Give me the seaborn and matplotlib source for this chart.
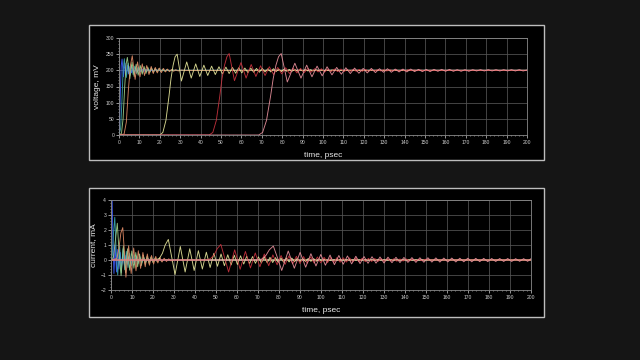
import matplotlib
matplotlib.use("Agg")
import matplotlib.pyplot as plt
import pandas as pd
import seaborn as sns
from matplotlib.patches import Rectangle
from matplotlib.ticker import MultipleLocator

# ---------------- data (time in psec) ----------------
curve_names = ["blue", "teal", "light", "orange", "yellow", "red", "pink"]
curve_colors = {
    "blue": "#3f5cff", "teal": "#3aa6b0", "light": "#9ed08a", "orange": "#e08a66",
    "yellow": "#e6e69a", "red": "#c8323e", "pink": "#e8909c",
}

# voltage, mV
volt_blue = [(0, 0), (0.3, 40), (0.7, 140), (1.1, 215), (1.5, 235), (2.2, 180), (2.9, 222), (3.5, 185),
             (4.1, 216), (4.7, 189), (5.4, 212), (6.1, 192), (6.8, 209), (7.5, 193), (8.2, 207), (9.0, 195),
             (9.8, 205), (10.6, 196), (11.5, 204), (12.4, 197), (13.3, 203), (14.2, 198), (15.2, 202),
             (16.2, 199), (18, 201), (20, 200), (200, 200)]
volt_teal = [(0, 0), (0.8, 20), (1.4, 100), (2.0, 195), (2.6, 236), (3.6, 178), (4.5, 222), (5.3, 184),
             (6.1, 217), (6.9, 187), (7.7, 213), (8.5, 190), (9.3, 210), (10.1, 192), (10.9, 208), (11.7, 194),
             (12.5, 206), (13.4, 195), (14.3, 205), (15.2, 196), (16.1, 204), (17.0, 197), (18, 203), (19, 198),
             (20, 202), (21.5, 199), (23, 200), (200, 200)]
volt_light = [(0, 0), (1.2, 5), (2.0, 50), (2.8, 150), (3.5, 220), (4.1, 240), (5.3, 174), (6.4, 225),
              (7.4, 181), (8.4, 219), (9.4, 185), (10.4, 215), (11.4, 188), (12.3, 212), (13.2, 190),
              (14.1, 210), (15.0, 192), (15.9, 208), (16.8, 193), (17.7, 206), (18.6, 195), (19.5, 205),
              (20.5, 196), (21.5, 204), (22.5, 197), (23.5, 203), (24.5, 198), (26, 201), (28, 200), (200, 200)]
volt_orange = [(0, 0), (2.5, 3), (3.6, 40), (4.6, 140), (5.6, 215), (6.5, 245), (7.9, 172), (9.1, 226),
               (10.3, 180), (11.4, 220), (12.5, 184), (13.6, 215), (14.7, 187), (15.8, 212), (16.8, 190),
               (17.8, 209), (18.8, 192), (19.8, 207), (20.8, 193), (21.8, 206), (22.8, 195), (23.8, 204),
               (24.8, 196), (25.8, 203), (26.8, 197), (27.8, 202), (29, 198), (30.5, 201), (32, 200), (200, 200)]
volt_yellow = [(0, 0), (20, 0), (21.5, 8), (23, 45), (24.5, 120), (25.5, 175), (26.5, 215), (27.5, 242),
               (28.5, 250), (30.6, 167), (33.2, 226), (35.4, 176), (37.6, 220), (39.6, 181), (41.6, 216),
               (43.5, 184), (45.4, 213), (47.2, 187), (49.0, 211), (50.7, 189), (52.4, 210), (54.0, 190),
               (55.6, 209), (57.2, 191), (58.7, 208), (60.2, 192), (61.7, 207), (63.2, 193), (64.6, 207),
               (66.0, 194), (67.4, 206), (68.8, 194), (70.2, 206), (71.6, 195), (73.0, 205), (74.4, 195),
               (75.7, 205), (77.0, 196), (78.3, 204), (79.6, 196), (80.9, 204), (82.2, 197), (83.5, 203),
               (84.8, 197), (86.1, 203), (87.4, 197), (88.7, 203), (90.0, 198), (91.3, 202), (92.6, 198),
               (93.9, 202), (95.2, 198), (96.5, 202), (97.8, 199), (99.1, 202), (100.4, 199), (101.7, 201),
               (103, 199), (104.3, 201), (106, 200), (200, 200)]
volt_red = [(0, 0), (44.2, 0), (46, 8), (47.7, 45), (49.4, 120), (50.5, 175), (51.7, 215), (52.9, 242),
            (54.0, 252), (56.6, 168), (59.8, 224), (62.3, 176), (64.8, 218), (67.1, 181), (69.4, 214),
            (71.6, 184), (73.7, 211), (75.8, 187), (77.8, 209), (79.8, 189), (81.7, 208), (83.6, 190),
            (85.4, 207), (87.2, 192), (89.0, 206), (90.8, 193), (92.5, 206), (94.2, 194), (95.9, 205),
            (97.6, 195), (99.2, 205), (100.8, 195), (102.4, 204), (104.0, 196), (105.6, 204), (107.2, 196),
            (108.8, 204), (110.3, 196), (111.8, 203), (113.3, 197), (114.8, 203), (116.3, 197), (117.8, 203),
            (119.3, 197), (120.8, 203), (122.3, 197), (123.8, 202), (125.3, 198), (126.8, 202), (128.3, 198),
            (129.8, 202), (131.3, 198), (132.8, 202), (134.3, 198), (135.8, 202), (137.3, 198), (138.8, 202),
            (140.3, 198), (141.8, 202), (143.3, 199), (144.8, 201), (146.3, 199), (147.8, 201), (149.3, 199),
            (151, 200), (200, 200)]
volt_pink = [(0, 0), (68.5, 0), (70.4, 8), (72.3, 45), (74.3, 120), (75.6, 175), (76.9, 215), (78.2, 242),
             (79.5, 252), (82.5, 164), (86.2, 222), (89.2, 176), (92.0, 216), (94.6, 180), (97.1, 213),
             (99.6, 183), (102.0, 211), (104.4, 186), (106.7, 209), (109.0, 188), (111.2, 208), (113.4, 190),
             (115.5, 207), (117.6, 191), (119.7, 206), (121.7, 192), (123.7, 206), (125.7, 193), (127.7, 205),
             (129.7, 194), (131.6, 205), (133.5, 194), (135.4, 204), (137.3, 195), (139.2, 204), (141.1, 195),
             (143.0, 204), (144.9, 196), (146.8, 203), (148.7, 196), (150.6, 203), (152.5, 196), (154.4, 203),
             (156.3, 197), (158.2, 203), (160.1, 197), (162.0, 203), (163.9, 197), (165.8, 202), (167.7, 197),
             (169.6, 202), (171.5, 197), (173.4, 202), (175.3, 198), (177.2, 202), (179.1, 198), (181.0, 202),
             (182.9, 198), (184.8, 202), (186.7, 198), (188.6, 202), (190.5, 198), (192.4, 202), (194.3, 198),
             (196.2, 202), (198.1, 198), (200, 201)]

# current, mA
curr_blue = [(0, 5.5), (0.4, 5.0), (0.9, 1.5), (1.4, -0.9), (2.0, 1.0), (2.6, -0.8), (3.2, 0.7), (3.8, -0.6),
             (4.4, 0.5), (5.0, -0.45), (5.7, 0.4), (6.4, -0.35), (7.1, 0.3), (7.8, -0.28), (8.6, 0.25),
             (9.4, -0.22), (10.2, 0.2), (11, -0.18), (11.9, 0.15), (12.8, -0.13), (13.7, 0.11), (14.6, -0.1),
             (15.6, 0.08), (16.6, -0.07), (18, 0.05), (20, 0), (200, 0)]
curr_teal = [(0, 0), (0.6, 0.3), (1.2, 1.8), (1.8, 2.85), (2.5, 0.5), (3.2, -1.0), (4.1, 0.95), (4.9, -0.85),
             (5.7, 0.75), (6.5, -0.65), (7.3, 0.58), (8.1, -0.5), (8.9, 0.45), (9.7, -0.4), (10.5, 0.36),
             (11.3, -0.32), (12.1, 0.28), (12.9, -0.25), (13.8, 0.22), (14.7, -0.2), (15.6, 0.17), (16.5, -0.15),
             (17.5, 0.12), (18.5, -0.1), (19.5, 0.08), (20.6, -0.06), (22, 0.04), (24, 0), (200, 0)]
curr_light = [(0, 0), (1.2, 0.2), (2.0, 1.2), (3.0, 2.45), (3.9, 0.4), (4.8, -1.05), (5.9, 0.95), (6.9, -0.85),
              (7.9, 0.75), (8.9, -0.68), (9.9, 0.6), (10.9, -0.55), (11.8, 0.5), (12.7, -0.45), (13.6, 0.4),
              (14.5, -0.36), (15.4, 0.32), (16.3, -0.28), (17.2, 0.25), (18.1, -0.22), (19.0, 0.2), (20, -0.17),
              (21, 0.14), (22, -0.12), (23, 0.1), (24, -0.08), (25.5, 0.05), (27, 0), (200, 0)]
curr_orange = [(0, 0), (2.8, 0.1), (3.8, 0.8), (4.7, 1.8), (5.6, 2.16), (6.4, 0.5), (7.1, -1.15), (8.4, 0.95),
               (9.6, -0.9), (10.8, 0.8), (11.9, -0.72), (13.0, 0.62), (14.1, -0.56), (15.2, 0.5), (16.3, -0.45),
               (17.3, 0.4), (18.3, -0.35), (19.3, 0.3), (20.3, -0.27), (21.3, 0.24), (22.3, -0.2), (23.3, 0.17),
               (24.3, -0.14), (25.3, 0.12), (26.4, -0.1), (27.5, 0.08), (28.6, -0.06), (30, 0), (200, 0)]
curr_yellow = [(0, 0), (21, 0), (23, 0.1), (24.5, 0.45), (25.8, 1.0), (27.3, 1.37), (28.9, 0.2), (30.5, -0.97),
               (33.0, 0.9), (35.3, -0.8), (37.5, 0.75), (39.6, -0.7), (41.6, 0.62), (43.5, -0.6), (45.4, 0.52),
               (47.2, -0.5), (49.0, 0.45), (50.7, -0.42), (52.4, 0.4), (54.0, -0.38), (55.6, 0.35), (57.2, -0.33),
               (58.7, 0.32), (60.2, -0.3), (61.7, 0.28), (63.2, -0.27), (64.6, 0.25), (66.0, -0.24), (67.4, 0.23),
               (68.8, -0.22), (70.2, 0.21), (71.6, -0.2), (73.0, 0.2), (74.4, -0.19), (75.7, 0.18), (77.0, -0.17),
               (78.3, 0.16), (79.6, -0.16), (80.9, 0.15), (82.2, -0.15), (83.5, 0.14), (84.8, -0.13), (86.1, 0.13),
               (87.4, -0.12), (88.7, 0.12), (90.0, -0.11), (91.3, 0.11), (92.6, -0.1), (93.9, 0.1), (95.2, -0.09),
               (96.5, 0.09), (97.8, -0.08), (99.1, 0.08), (100.4, -0.07), (101.7, 0.07), (103, -0.06), (105, 0),
               (200, 0)]
curr_red = [(0, 0), (45, 0), (47.3, 0.08), (49.1, 0.34), (50.6, 0.76), (52.3, 1.04), (54.1, 0.15), (56.0, -0.8),
            (58.9, 0.68), (61.5, -0.62), (64.0, 0.57), (66.4, -0.53), (68.7, 0.47), (70.9, -0.45), (73.0, 0.4),
            (75.1, -0.38), (77.1, 0.34), (79.1, -0.32), (81.0, 0.3), (82.9, -0.29), (84.7, 0.27), (86.5, -0.26),
            (88.3, 0.25), (90.0, -0.24), (91.7, 0.23), (93.4, -0.22), (95.1, 0.21), (96.7, -0.2), (98.3, 0.2),
            (99.9, -0.19), (101.5, 0.18), (103.1, -0.18), (104.6, 0.17), (106.1, -0.16), (107.6, 0.16),
            (109.1, -0.15), (110.6, 0.15), (112.1, -0.14), (113.6, 0.14), (115.1, -0.13), (116.6, 0.13),
            (118.1, -0.12), (119.6, 0.12), (121.1, -0.11), (122.6, 0.11), (124.1, -0.1), (125.6, 0.1),
            (127.1, -0.1), (128.6, 0.09), (130.1, -0.09), (131.6, 0.09), (133.1, -0.08), (134.6, 0.08),
            (136.1, -0.08), (137.6, 0.07), (139.1, -0.07), (140.6, 0.07), (142.1, -0.06), (143.6, 0.06),
            (145.1, -0.06), (146.6, 0.05), (148.1, -0.05), (149.6, 0.05), (151, 0), (200, 0)]
curr_pink = [(0, 0), (69.4, 0), (71.9, 0.07), (73.8, 0.31), (75.4, 0.68), (77.3, 0.93), (79.3, 0.14), (81.3, -0.7),
             (84.4, 0.6), (87.3, -0.55), (90.05, 0.51), (92.7, -0.48), (95.2, 0.42), (97.6, -0.4), (99.9, 0.37),
             (102.1, -0.35), (104.3, 0.33), (106.4, -0.31), (108.5, 0.3), (110.6, -0.28), (112.6, 0.27),
             (114.6, -0.26), (116.6, 0.25), (118.6, -0.24), (120.5, 0.23), (122.4, -0.22), (124.3, 0.22),
             (126.2, -0.21), (128.1, 0.2), (130.0, -0.2), (131.9, 0.19), (133.8, -0.18), (135.7, 0.18),
             (137.6, -0.17), (139.5, 0.17), (141.4, -0.16), (143.3, 0.16), (145.2, -0.16), (147.1, 0.15),
             (149.0, -0.15), (150.9, 0.15), (152.8, -0.14), (154.7, 0.14), (156.6, -0.14), (158.5, 0.13),
             (160.4, -0.13), (162.3, 0.13), (164.2, -0.13), (166.1, 0.12), (168.0, -0.12), (169.9, 0.12),
             (171.8, -0.12), (173.7, 0.11), (175.6, -0.11), (177.5, 0.11), (179.4, -0.11), (181.3, 0.1),
             (183.2, -0.1), (185.1, 0.1), (187.0, -0.1), (188.9, 0.1), (190.8, -0.1), (192.7, 0.09),
             (194.6, -0.09), (196.5, 0.09), (198.4, -0.09), (200, 0.09)]

voltage_series = {"blue": volt_blue, "teal": volt_teal, "light": volt_light, "orange": volt_orange,
                  "yellow": volt_yellow, "red": volt_red, "pink": volt_pink}
current_series = {"blue": curr_blue, "teal": curr_teal, "light": curr_light, "orange": curr_orange,
                  "yellow": curr_yellow, "red": curr_red, "pink": curr_pink}

x_ticks = list(range(0, 201, 10))
v_ticks = list(range(0, 301, 50))
i_ticks = list(range(-2, 5, 1))


def long_frame(series):
    rows = []
    for name in curve_names:
        for k, (t, v) in enumerate(series[name]):
            rows.append({"curve": name, "time": t, "value": v, "k": k})
    return pd.DataFrame(rows)


# ---------------- style ----------------
sns.set_theme(style="dark")
BG = "#151515"
plt.rcParams.update({
    "figure.facecolor": BG, "savefig.facecolor": BG, "axes.facecolor": "#000000",
    "axes.edgecolor": "#8a8a8a", "axes.linewidth": 0.6, "text.color": "#e8e8e8",
    "axes.labelcolor": "#e8e8e8", "xtick.color": "#cfcfcf", "ytick.color": "#cfcfcf",
})
plt.rcParams["font.family"] = ["Liberation Sans", "DejaVu Sans"]

fig = plt.figure(figsize=(6.4, 3.6), dpi=100)
W, H = 640.0, 360.0

# panel frames (drawn beneath the axes)
for (x0, y0, x1, y1) in [(89, 25, 544, 160), (89, 188, 544, 317)]:
    fig.patches.append(Rectangle((x0 / W, 1 - y1 / H), (x1 - x0) / W, (y1 - y0) / H,
                                 transform=fig.transFigure, facecolor="#000000",
                                 edgecolor="#bdbdbd", linewidth=1.0, zorder=-5))

ax1 = fig.add_axes([119 / W, 1 - 135 / H, 408 / W, 97 / H])
ax2 = fig.add_axes([111 / W, 1 - 290 / H, 420 / W, 90 / H])

for ax, series, ylim, yt, ymin, ylab, lx, ly in [
        (ax1, voltage_series, (0, 300), v_ticks, 10, "voltage, mV", -0.045, -0.175),
        (ax2, current_series, (-2, 4), i_ticks, 0.2, "current, mA", -0.033, -0.19)]:
    df = long_frame(series)
    sns.lineplot(data=df, x="time", y="value", hue="curve", palette=curve_colors,
                 hue_order=curve_names, estimator=None, sort=False, units="curve",
                 linewidth=0.65, alpha=0.92, legend=False, ax=ax)
    ax.set_zorder(2)
    ax.set_facecolor("#000000")
    ax.set_xlim(0, 200)
    ax.set_ylim(*ylim)
    ax.set_xticks(x_ticks)
    ax.set_yticks(yt)
    ax.xaxis.set_minor_locator(MultipleLocator(2))
    ax.yaxis.set_minor_locator(MultipleLocator(ymin))
    ax.grid(True, which="major", color="#555555", linewidth=0.55)
    ax.tick_params(which="major", labelsize=3.6, length=2, width=0.5, pad=1.5,
                   bottom=True, left=True, direction="out")
    ax.tick_params(which="minor", length=1, width=0.4, bottom=True, left=True, direction="out")
    for s in ax.spines.values():
        s.set_color("#8a8a8a")
        s.set_linewidth(0.6)
    ax.set_xlabel("time, psec", fontsize=6)
    ax.set_ylabel(ylab, fontsize=6)
    ax.xaxis.set_label_coords(0.5, ly)
    ax.yaxis.set_label_coords(lx, 0.5)

fig.savefig("out.png", dpi=100, facecolor=BG)
